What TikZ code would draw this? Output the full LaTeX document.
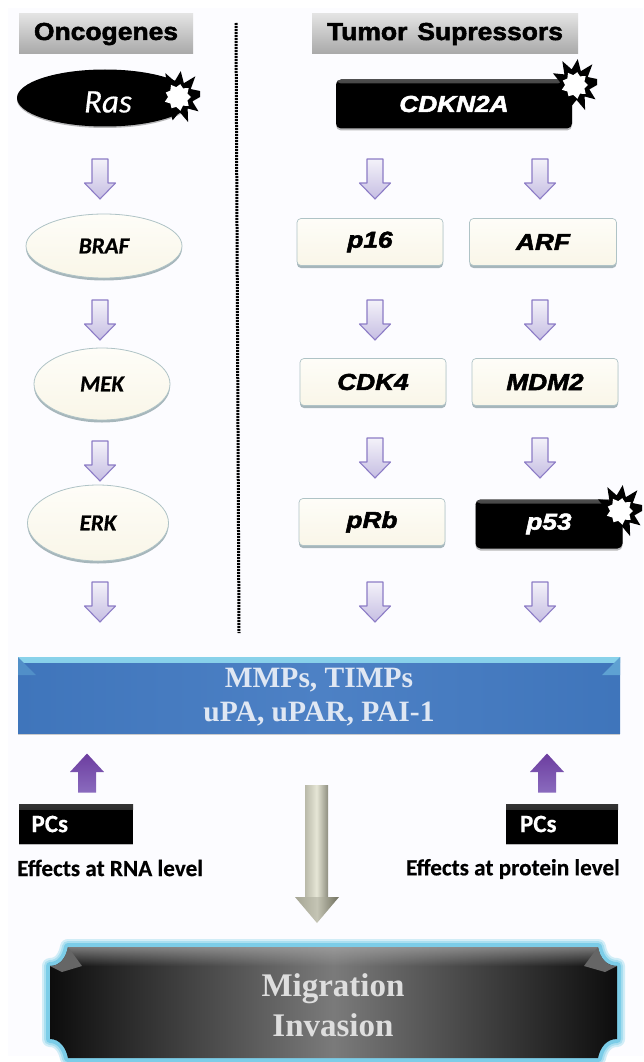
\documentclass[tikz,border=0pt]{standalone}
\usepackage{fontspec}
\usetikzlibrary{shapes.geometric,shadows,calc,fadings}
\setmainfont{Liberation Sans}
\newfontfamily\hdrf[FakeBold=2.2,FakeStretch=1.08]{Liberation Sans Bold}
\newfontfamily\blkit[FakeBold=2.4,FakeStretch=1.14]{Liberation Sans Bold Italic}
\newfontfamily\calit[FakeBold=.4]{Carlito Italic}
\newfontfamily\calbi[FakeBold=.6]{Carlito Bold Italic}
\newfontfamily\calb[FakeBold=.4]{Carlito Bold}
\newfontfamily\serb{Liberation Serif Bold}
\newcommand{\fs}[1]{\fontsize{#1}{#1}\selectfont}
\definecolor{bgc}{HTML}{FCFCFF}
\definecolor{creamtop}{HTML}{FEFDF8}
\definecolor{cream}{HTML}{F9F6E8}
\definecolor{creamedge}{HTML}{AFC3C6}
\definecolor{shadowc}{HTML}{8A9FA5}
\definecolor{glow}{HTML}{7CCDE8}
\definecolor{blueside}{HTML}{3F75BB}
\definecolor{bluemid}{HTML}{4D81C5}
\definecolor{bluetext}{HTML}{DFE7F3}
\definecolor{arrowedge}{HTML}{8C7CC6}
\definecolor{uptop}{HTML}{6C3D9F}
\definecolor{upbot}{HTML}{8A6BBE}
\definecolor{shaftl}{HTML}{B9B9A9}
\definecolor{shaftm}{HTML}{E6E6D6}
\definecolor{shaftr}{HTML}{8E8E80}
\definecolor{headl}{HTML}{A5A594}
\definecolor{headm}{HTML}{C4C4B4}
\definecolor{headr}{HTML}{6F6F5E}
\tikzset{
  x=1pt,y=-1pt,
  hdrbox/.style={rectangle,inner sep=0,minimum height=40pt,top color=black!11,bottom color=black!34,font=\hdrf\fs{24.5}},
  creambox/.style={rectangle,rounded corners=4pt,inner sep=0,minimum width=146pt,minimum height=47pt,top color=creamtop,bottom color=cream,draw=creamedge,line width=.7pt,
    drop shadow={shadow xshift=0pt,shadow yshift=-2.5pt,fill=shadowc,opacity=.75},font=\blkit\fs{23}},
  creamell/.style={ellipse,inner sep=0,top color=creamtop,bottom color=cream,draw=creamedge,line width=.8pt,
    drop shadow={shadow xshift=0pt,shadow yshift=-2.5pt,fill=shadowc,opacity=.75},font=\calbi\fs{23}},
  blackbox/.style={rectangle,rounded corners=5pt,inner sep=0,fill=black,text=white,font=\blkit\fs{23},
    drop shadow={shadow xshift=0pt,shadow yshift=-2pt,fill=black!45,opacity=.6},
    path picture={\shade[top color=black!70,bottom color=black] (path picture bounding box.north west) rectangle ([yshift=-4pt]path picture bounding box.north east);}},
  pcbox/.style={rectangle,inner sep=0,minimum height=39pt,fill=black,text=white,font=\calb\fs{25},
    drop shadow={shadow xshift=0pt,shadow yshift=-1.5pt,fill=black!45,opacity=.6},
    path picture={\shade[top color=black!80,bottom color=black] (path picture bounding box.north west) rectangle ([yshift=-5pt]path picture bounding box.north east);}},
  burstpic/.pic={
    \fill[black] (0:22) -- (17:15) -- (35:25) -- (50:15) -- (68:27) -- (84:15) -- (103:24) -- (122:15) -- (138:26) -- (155:15) -- (172:22) -- (190:15) -- (208:25) -- (225:15) -- (242:27) -- (258:16) -- (276:26) -- (293:15) -- (310:27) -- (328:15) -- (345:23) -- cycle;
    \fill[white] (0:13) -- (20:10) -- (40:14) -- (60:10) -- (80:14) -- (100:10) -- (120:13) -- (140:10) -- (160:14) -- (180:10) -- (200:13) -- (220:10) -- (240:14) -- (260:10) -- (280:13) -- (300:10) -- (320:14) -- (340:10) -- cycle;
  },
  downarrow/.pic={
    \shadedraw[top color=white!90!arrowedge,bottom color=arrowedge!50!white,draw=arrowedge,line width=1.1pt,line join=round]
      (-8,-20) -- (8,-20) -- (8,4) -- (15.5,4) -- (0,20) -- (-15.5,4) -- (-8,4) -- cycle;
  },
  uparrow/.pic={
    \shade[top color=uptop,bottom color=upbot]
      (-9,19.5) -- (9,19.5) -- (9,-1) -- (17,-1) -- (0,-19.5) -- (-17,-1) -- (-9,-1) -- cycle;
  },
  lbl/.style={inner sep=0,font=\calb\fs{23.2}},
}
\begin{document}
\begin{tikzpicture}
\useasboundingbox (0,0) rectangle (643,1062);
\fill[white] (0,0) rectangle (643,1062);
\fill[bgc] (8,8) rectangle (643,1056);

% headers
\node[hdrbox,minimum width=174pt] (hon) at (106,34) {Oncogenes};
\node[hdrbox,minimum width=266pt] (hts) at (445,34) {Tumor\hspace{10pt}Supressors};

% divider
\coordinate (d1) at (236,23);
\coordinate (d2) at (239,633);
\draw[line width=3pt,dash pattern=on 2pt off 1pt] (d1) -- (d2);

% oncogene column
\node[ellipse,inner sep=0,minimum width=176pt,minimum height=57pt,fill=black,
  drop shadow={shadow xshift=0pt,shadow yshift=-1.5pt,fill=black!45,opacity=.6}] (ras) at (105,98) {};
\node[inner sep=0,text=white,font=\calit\fs{33}] (rast) at (108,102) {Ras};
\pic at (178,97) {burstpic};
\pic (a1) at (100,179) {downarrow};
\node[creamell,minimum width=156pt,minimum height=64pt] (braf) at (104,246) {BRAF};
\pic (a2) at (100,320) {downarrow};
\node[creamell,minimum width=136pt,minimum height=72pt] (mek) at (102,384) {MEK};
\pic (a3) at (100,461) {downarrow};
\node[creamell,minimum width=141pt,minimum height=76pt] (erk) at (98,523) {ERK};
\pic (a4) at (100,602) {downarrow};

% tumour suppressor column
\node[blackbox,minimum width=236pt,minimum height=49pt] (cdkn) at (454,104) {CDKN2A};
\pic at (575,85) {burstpic};
\pic (b1) at (375,179) {downarrow};
\pic (c1) at (540,179) {downarrow};
\node[creambox] (p16) at (370,242) {\raisebox{-2pt}{p16}};
\node[creambox,minimum width=147pt] (arf) at (543,242) {ARF};
\pic (b2) at (375,320) {downarrow};
\pic (c2) at (540,320) {downarrow};
\node[creambox] (cdk4) at (373,382) {CDK4};
\node[creambox] (mdm2) at (545,382) {MDM2};
\pic (b3) at (375,458) {downarrow};
\pic (c3) at (540,458) {downarrow};
\node[creambox] (prb) at (372,522) {\raisebox{-1pt}{pRb}};
\node[blackbox,minimum width=147pt,minimum height=49pt] (p53) at (549,524) {p53};
\pic at (620,511) {burstpic};
\pic (b4) at (375,602) {downarrow};
\pic (c4) at (540,602) {downarrow};

% blue box
\node[rectangle,inner sep=0,minimum width=602pt,minimum height=76pt,
  left color=blueside,right color=blueside,middle color=bluemid,
  drop shadow={shadow xshift=0pt,shadow yshift=-2pt,fill=black!40,opacity=.5},
  path picture={
    \shade[top color=glow!90,bottom color=glow!65!bluemid] (path picture bounding box.north west) rectangle ([yshift=-5pt]path picture bounding box.north east);
    \fill[glow!30!blueside] (path picture bounding box.north west) -- ++(18pt,-18pt) -- ++(-18pt,0) -- cycle;
    \fill[glow!50!blueside] (path picture bounding box.north east) -- ++(-18pt,-18pt) -- ++(18pt,0) -- cycle;
  }] (mmp) at (319,695) {};
\node[align=center,inner sep=0,text=bluetext,font=\serb\fontsize{29.5}{34}\selectfont] (mmpt) at (319,697) {MMPs, TIMPs\\uPA, uPAR, PAI-1};

% PCs
\pic (up1) at (87,773) {uparrow};
\pic (up2) at (547,773) {uparrow};
\node[pcbox,minimum width=114pt,text width=101pt,align=left] (pc1) at (76,824) {\hspace*{6pt}PCs};
\node[pcbox,minimum width=112pt,text width=98pt,align=left] (pc2) at (562,824) {\hspace*{7pt}PCs};
\node[lbl,anchor=west] (e1) at (17,868) {Effects at RNA level};
\node[lbl,anchor=east] (e2) at (620,869) {Effects at protein level};

% large arrow
\coordinate (ga) at (317,785);
\shade[left color=shaftl,right color=shaftr,middle color=shaftm] (ga) ++(-12,0) rectangle ++(23,113);
\shade[left color=headl,right color=headr,middle color=headm] (ga) ++(-22,112) -- ++(44,0) -- ++(-22,26) -- cycle;

% migration box
\def\migpath{(68,947) -- (598,947) .. controls (600,958) and (606,966) .. (617,966) -- (617,1039) .. controls (606,1039) and (600,1048) .. (598,1058) -- (68,1058) .. controls (66,1048) and (60,1039) .. (50,1039) -- (50,966) .. controls (60,966) and (66,958) .. (68,947) -- cycle}
\draw[glow!35,line width=16pt,line join=round] \migpath;
\draw[glow!65,line width=12pt,line join=round] \migpath;
\draw[glow,line width=8pt,line join=round] \migpath;
\shade[left color=black!95,right color=black!95,middle color=black!52] \migpath;
\begin{scope}
\clip \migpath;
\fill[black!35,path fading=south,opacity=.7] (50,947) rectangle (617,966);
\fill[black!60] (50,966) -- (68,947) -- (82,966) -- (62,972) -- cycle;
\fill[black!60] (617,966) -- (598,947) -- (584,966) -- (605,972) -- cycle;
\end{scope}
\node[align=center,inner sep=0,text=black!13,font=\serb\fontsize{33}{40}\selectfont] (mig) at (333,1005) {Migration\\Invasion};
\end{tikzpicture}
\end{document}
